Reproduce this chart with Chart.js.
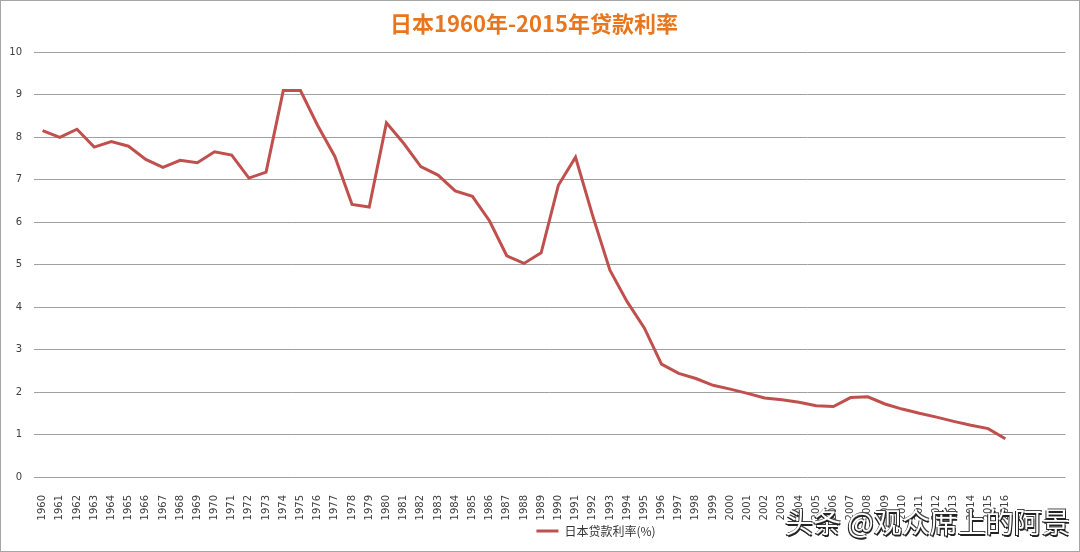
<!DOCTYPE html>
<html>
<head>
<meta charset="utf-8">
<script src="https://cdn.jsdelivr.net/npm/chart.js@4"></script>
<style>
    html, body { margin: 0; padding: 0; background: #fff; }
    #wrap { position: relative; width: 1080px; height: 552px; box-sizing: border-box; border: 1px solid #a6a6a6; }
    #wrap canvas { display: block; }
    .mark {
        position: absolute; left: 784px; top: 500px;
        font-family: "Noto Sans CJK SC", sans-serif; font-size: 28px; color: #fff;
        text-shadow: 1px 2px 0 #222, -1px 1px 0 #222, 1px -1px 0 #444;
        white-space: nowrap;
    }
</style>
</head>
<body>
<div id="wrap">
    <canvas id="rateChart" width="1078" height="550"></canvas>
    <div class="mark">头条 @观众席上的阿景</div>
</div>
<script>
/* Japan lending rate 1960-2016 */

const years = [
    '1960', '1961', '1962', '1963', '1964', '1965', '1966', '1967', '1968', '1969',
    '1970', '1971', '1972', '1973', '1974', '1975', '1976', '1977', '1978', '1979',
    '1980', '1981', '1982', '1983', '1984', '1985', '1986', '1987', '1988', '1989',
    '1990', '1991', '1992', '1993', '1994', '1995', '1996', '1997', '1998', '1999',
    '2000', '2001', '2002', '2003', '2004', '2005', '2006', '2007', '2008', '2009',
    '2010', '2011', '2012', '2013', '2014', '2015', '2016'
];
// empty slots at the right end of the axis
const blankSlots = ['', '', ''];

const lendingRate = [
    8.16, 8.00, 8.19, 7.77, 7.90, 7.79, 7.48, 7.29, 7.46, 7.40,
    7.66, 7.58, 7.04, 7.18, 9.10, 9.10, 8.28, 7.55, 6.42, 6.36,
    8.34, 7.86, 7.31, 7.11, 6.74, 6.61, 6.03, 5.21, 5.03, 5.28,
    6.87, 7.53, 6.15, 4.87, 4.13, 3.51, 2.66, 2.44, 2.32, 2.16,
    2.07, 1.97, 1.86, 1.82, 1.76, 1.68, 1.66, 1.87, 1.89, 1.72,
    1.60, 1.50, 1.41, 1.31, 1.22, 1.14, 0.90
];

const yTicks = [0, 1, 2, 3, 4, 5, 6, 7, 8, 9, 10];

const TITLE = '日本1960年-2015年贷款利率';
const SERIES = '日本贷款利率(%)';

const legendShift = {
    id: 'legendShift',
    afterLayout(chart) {
        chart.legend.left += 62;
        chart.legend.right += 62;
    }
};

new Chart(document.getElementById('rateChart'), {
    type: 'line',
    data: {
        labels: years.concat(blankSlots),
        datasets: [{
            label: SERIES,
            data: lendingRate,
            borderColor: '#c0504d',
            backgroundColor: '#c0504d',
            borderWidth: 3,
            pointRadius: 0,
            tension: 0,
        }],
    },
    options: {
        responsive: false,
        animation: false,
        layout: { padding: { left: 0, right: 12, top: 0, bottom: 4 } },
        plugins: {
            title: {
                display: true,
                text: TITLE,
                color: '#e8761e',
                font: { family: 'Noto Sans CJK SC', size: 22, weight: 'bold' },
                padding: { top: 9, bottom: 16 },
            },
            legend: {
                position: 'bottom',
                labels: {
                    usePointStyle: true,
                    pointStyle: 'line',
                    pointStyleWidth: 22,
                    color: '#333',
                    font: { family: 'Noto Sans CJK SC', size: 12 },
                    padding: 3,
                },
            },
            tooltip: { enabled: false },
        },
        scales: {
            x: {
                offset: true,
                grid: { display: false },
                border: { display: false },
                ticks: {
                    autoSkip: false,
                    maxRotation: 90,
                    minRotation: 90,
                    padding: 10,
                    color: '#404040',
                    font: { family: 'DejaVu Sans', size: 10 },
                },
                afterFit: s => { s.height = 45; },
            },
            y: {
                min: 0,
                max: 10,
                afterBuildTicks: s => { s.ticks = yTicks.map(v => ({ value: v })); },
                grid: { color: '#a0a0a0', drawTicks: false },
                border: { display: false },
                ticks: {
                    padding: 12,
                    color: '#404040',
                    font: { family: 'DejaVu Sans', size: 10 },
                },
                afterFit: s => { s.width = 33; },
            },
        },
    },
    plugins: [legendShift],
});
</script>
</body>
</html>
